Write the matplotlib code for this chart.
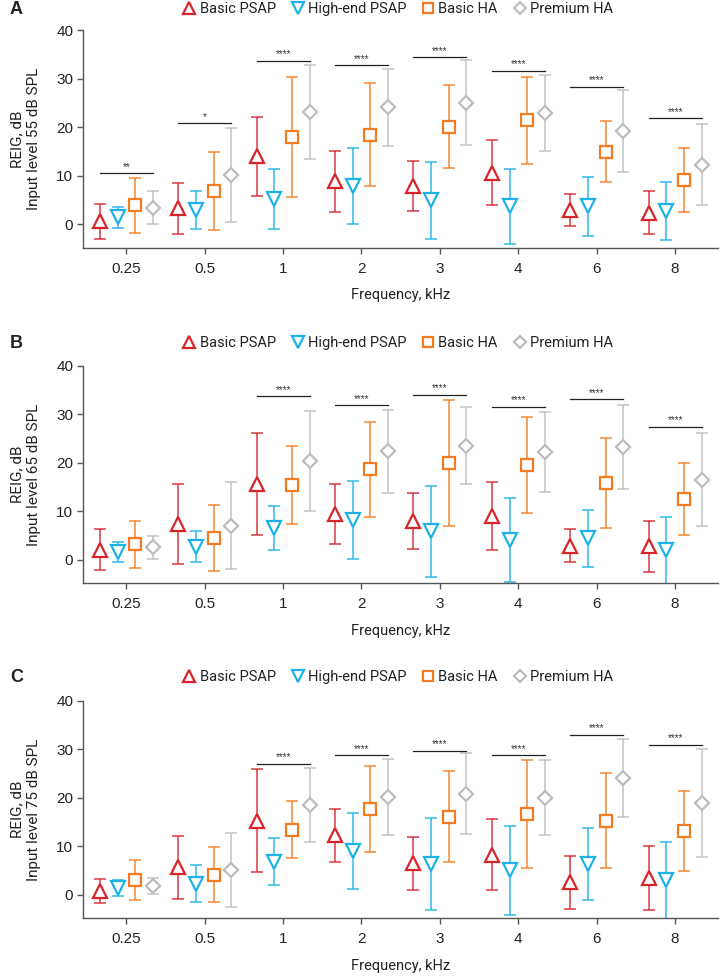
import matplotlib
matplotlib.use('Agg')
import matplotlib.pyplot as plt
from matplotlib.lines import Line2D

plt.rcParams['font.family'] = ['Liberation Sans', 'DejaVu Sans']

freqs = ['0.25', '0.5', '1', '2', '3', '4', '6', '8']
series = ['Basic PSAP', 'High-end PSAP', 'Basic HA', 'Premium HA']
panel_labels = ['A', 'B', 'C']
input_levels = ['55', '65', '75']

# ---- Panel A: input level 55 dB SPL (mean, SD) ----
a_basic_psap_mean = [0.6, 3.3, 14.0, 8.9, 7.9, 10.6, 3.0, 2.4]
a_basic_psap_sd = [3.6, 5.3, 8.1, 6.3, 5.1, 6.7, 3.3, 4.5]
a_highend_psap_mean = [1.4, 2.9, 5.2, 7.9, 4.9, 3.7, 3.7, 2.8]
a_highend_psap_sd = [2.2, 3.95, 6.2, 7.9, 7.9, 7.7, 6.05, 6.0]
a_basic_ha_mean = [3.9, 6.8, 18.0, 18.5, 20.1, 21.4, 14.95, 9.2]
a_basic_ha_sd = [5.7, 8.0, 12.4, 10.6, 8.6, 9.0, 6.3, 6.6]
a_premium_ha_mean = [3.4, 10.2, 23.2, 24.1, 25.1, 22.9, 19.2, 12.3]
a_premium_ha_sd = [3.4, 9.7, 9.65, 8.0, 8.7, 7.9, 8.4, 8.4]
a_sig_y = [10.5, 20.8, 33.7, 32.8, 34.4, 31.6, 28.4, 21.9]
a_sig_text = ['**', '*', '****', '****', '****', '****', '****', '****']

# ---- Panel B: input level 65 dB SPL ----
b_basic_psap_mean = [2.0, 7.3, 15.5, 9.4, 8.0, 8.9, 2.8, 2.7]
b_basic_psap_sd = [4.2, 8.3, 10.5, 6.1, 5.8, 7.0, 3.4, 5.25]
b_highend_psap_mean = [1.5, 2.6, 6.5, 8.2, 5.8, 4.0, 4.4, 1.9]
b_highend_psap_sd = [2.1, 3.2, 4.6, 8.0, 9.4, 8.6, 5.9, 6.9]
b_basic_ha_mean = [3.1, 4.5, 15.4, 18.6, 20.0, 19.5, 15.8, 12.5]
b_basic_ha_sd = [4.8, 6.8, 8.0, 9.85, 13.0, 9.9, 9.3, 7.4]
b_premium_ha_mean = [2.5, 7.0, 20.4, 22.3, 23.5, 22.2, 23.2, 16.5]
b_premium_ha_sd = [2.3, 8.9, 10.3, 8.5, 8.0, 8.3, 8.6, 9.5]
b_sig_y = [None, None, 33.7, 31.8, 34.0, 31.5, 33.1, 27.4]
b_sig_text = ['', '', '****', '****', '****', '****', '****', '****']

# ---- Panel C: input level 75 dB SPL ----
c_basic_psap_mean = [0.7, 5.6, 15.25, 12.2, 6.4, 8.25, 2.5, 3.4]
c_basic_psap_sd = [2.5, 6.5, 10.65, 5.4, 5.4, 7.3, 5.5, 6.6]
c_highend_psap_mean = [1.3, 2.2, 6.8, 9.0, 6.35, 5.0, 6.3, 2.9]
c_highend_psap_sd = [1.6, 3.8, 4.9, 7.8, 9.45, 9.2, 7.5, 8.0]
c_basic_ha_mean = [3.0, 4.1, 13.4, 17.6, 16.05, 16.6, 15.25, 13.1]
c_basic_ha_sd = [4.05, 5.7, 5.95, 8.9, 9.4, 11.1, 9.75, 8.25]
c_premium_ha_mean = [1.8, 5.0, 18.5, 20.1, 20.8, 20.0, 24.0, 18.9]
c_premium_ha_sd = [1.6, 7.6, 7.7, 7.8, 8.3, 7.7, 8.1, 11.1]
c_sig_y = [None, None, 27.0, 28.7, 29.7, 28.7, 32.9, 30.9]
c_sig_text = ['', '', '****', '****', '****', '****', '****', '****']

panels = [
    ([a_basic_psap_mean, a_highend_psap_mean, a_basic_ha_mean, a_premium_ha_mean],
     [a_basic_psap_sd, a_highend_psap_sd, a_basic_ha_sd, a_premium_ha_sd], a_sig_y, a_sig_text),
    ([b_basic_psap_mean, b_highend_psap_mean, b_basic_ha_mean, b_premium_ha_mean],
     [b_basic_psap_sd, b_highend_psap_sd, b_basic_ha_sd, b_premium_ha_sd], b_sig_y, b_sig_text),
    ([c_basic_psap_mean, c_highend_psap_mean, c_basic_ha_mean, c_premium_ha_mean],
     [c_basic_psap_sd, c_highend_psap_sd, c_basic_ha_sd, c_premium_ha_sd], c_sig_y, c_sig_text),
]

colors = ['#d7242b', '#1cb2e6', '#f47b20', '#bdbdbd']
markers = ['^', 'v', 's', 'D']
msizes = [10, 10, 8, 7.2]
offsets = [-0.335, -0.11, 0.115, 0.34]

fig = plt.figure(figsize=(7.2, 9.77), dpi=100)
axes_bottoms = [0.7462, 0.4030, 0.0601]
ax_h = 0.2228
ax_left = 0.1153
ax_w = 0.882
legend_y = [977 - 9, 977 - 343, 977 - 677]

spine_color = '#555555'
for p, (means, sds, sig_y, sig_text) in enumerate(panels):
    ax = fig.add_axes([ax_left, axes_bottoms[p], ax_w, ax_h])
    xs_base = list(range(len(freqs)))
    for s in range(4):
        xs = [x + offsets[s] for x in xs_base]
        ax.errorbar(xs, means[s], yerr=sds[s], fmt='none', ecolor=colors[s],
                    elinewidth=1.1, capsize=4.6, capthick=1.1, alpha=0.9, zorder=2)
        ax.plot(xs, means[s], linestyle='none', marker=markers[s], markersize=msizes[s],
                markerfacecolor='white', markeredgecolor=colors[s], markeredgewidth=1.6, zorder=3)
    for i, (yv, txt) in enumerate(zip(sig_y, sig_text)):
        if yv is None:
            continue
        ax.plot([i + offsets[0], i + offsets[3]], [yv, yv], color='#222222', lw=0.9, zorder=2)
        ax.text(i + (offsets[0] + offsets[3]) / 2, yv + 0.3, txt, ha='center', va='bottom',
                fontsize=7, color='#333333')
    ax.set_xlim(-0.55, 7.55)
    ax.set_ylim(-4.9, 40)
    ax.set_yticks([0, 10, 20, 30, 40])
    ax.set_xticks(xs_base)
    ax.set_xticklabels(freqs)
    ax.spines['top'].set_visible(False)
    ax.spines['right'].set_visible(False)
    for sp in ['left', 'bottom']:
        ax.spines[sp].set_color(spine_color)
        ax.spines[sp].set_linewidth(1.0)
    ax.tick_params(axis='both', direction='out', length=4, width=1.0, color=spine_color,
                   labelsize=11, labelcolor='#222222', pad=3)
    ax.tick_params(axis='x', pad=6)
    ax.set_xlabel('Frequency, kHz', fontsize=10.5, color='#222222', labelpad=9,
                  family=['Roboto', 'DejaVu Sans'])
    ax.set_ylabel('REIG, dB\nInput level %s dB SPL' % input_levels[p], fontsize=11,
                  color='#222222', linespacing=1.3, family=['Roboto', 'DejaVu Sans'])
    ax.yaxis.set_label_coords(-0.066, 0.5)

    fig.text(10 / 720, legend_y[p] / 977, panel_labels[p], fontsize=13, fontweight='bold',
             ha='left', va='center', color='#222222')
    handles = [Line2D([], [], linestyle='none', marker=markers[s], markersize=msizes[s] * 0.85,
                      markerfacecolor='white', markeredgecolor=colors[s], markeredgewidth=1.6)
               for s in range(4)]
    fig.legend(handles, series, loc='center', bbox_to_anchor=(0.552, legend_y[p] / 977),
               ncol=4, frameon=False, handletextpad=0.2, columnspacing=1.0, handlelength=1.0,
               prop={'family': ['Roboto', 'DejaVu Sans'], 'size': 10.5}, labelcolor='#222222')

fig.savefig('out.png', dpi=100)
